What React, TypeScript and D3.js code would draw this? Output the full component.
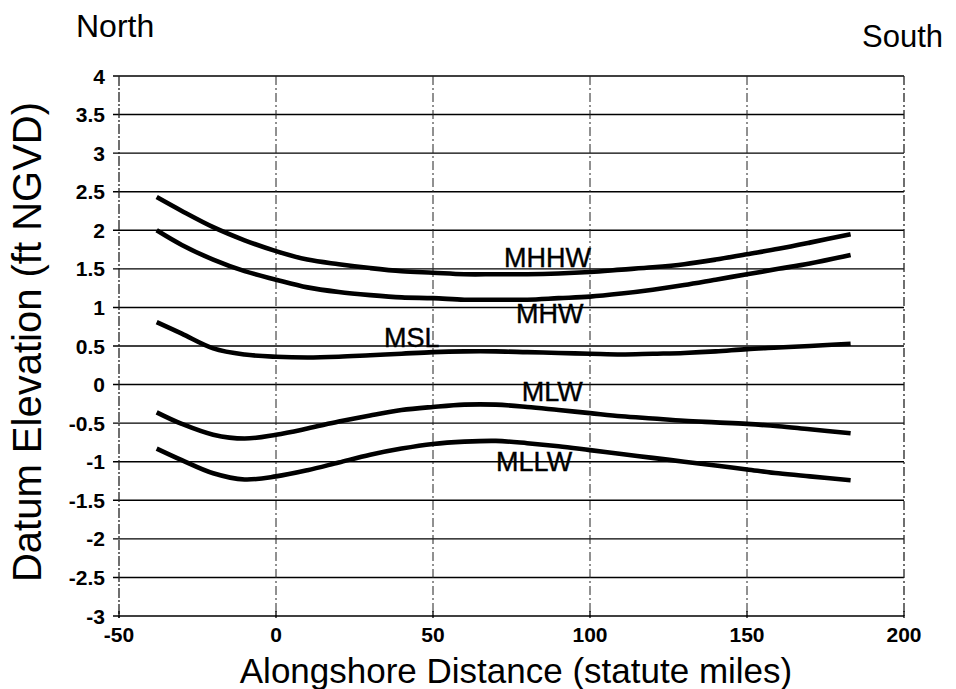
import React from "react";
import * as d3 from "d3";

// Alongshore distance (statute miles) at which each datum is sampled
const distance = [-38, -30, -20, -10, 0, 10, 20, 30, 40, 50, 60, 70, 80, 90, 100, 110, 120, 130, 140, 150, 160, 170, 183];

// Tidal datum elevations (ft NGVD)
const mhhw = [2.43, 2.25, 2.04, 1.87, 1.73, 1.62, 1.56, 1.51, 1.47, 1.45, 1.43, 1.43, 1.43, 1.44, 1.46, 1.49, 1.52, 1.56, 1.62, 1.69, 1.76, 1.84, 1.95];
const mhw = [2.0, 1.81, 1.62, 1.47, 1.36, 1.26, 1.2, 1.16, 1.13, 1.12, 1.1, 1.1, 1.1, 1.12, 1.14, 1.18, 1.23, 1.29, 1.36, 1.43, 1.5, 1.57, 1.68];
const msl = [0.81, 0.66, 0.47, 0.39, 0.36, 0.35, 0.36, 0.38, 0.4, 0.42, 0.43, 0.43, 0.42, 0.41, 0.4, 0.39, 0.4, 0.41, 0.43, 0.46, 0.48, 0.5, 0.53];
const mlw = [-0.36, -0.51, -0.65, -0.7, -0.65, -0.57, -0.48, -0.4, -0.33, -0.29, -0.26, -0.26, -0.29, -0.33, -0.37, -0.41, -0.44, -0.47, -0.49, -0.51, -0.54, -0.58, -0.63];
const mllw = [-0.83, -0.98, -1.15, -1.23, -1.19, -1.11, -1.01, -0.91, -0.83, -0.77, -0.74, -0.73, -0.76, -0.8, -0.85, -0.9, -0.95, -1.0, -1.05, -1.1, -1.15, -1.19, -1.24];

const seriesValues = [mhhw, mhw, msl, mlw, mllw];

// Curve names and where each name sits (distance, elevation of text baseline)
const labelNames = ["MHHW", "MHW", "MSL", "MLW", "MLLW"];
const labelX = [72.6, 76.4, 34.4, 78.3, 70.1];
const labelY = [1.52, 0.8, 0.49, -0.21, -1.12];

const xTicks = [-50, 0, 50, 100, 150, 200];
const yTicks = [4, 3.5, 3, 2.5, 2, 1.5, 1, 0.5, 0, -0.5, -1, -1.5, -2, -2.5, -3];

const W = 956;
const H = 689;
const FONT = "'Liberation Sans', Arial, Helvetica, sans-serif";

export default function App() {
  const x = d3.scaleLinear().domain([-50, 200]).range([119, 904]);
  const y = d3.scaleLinear().domain([-3, 4]).range([616, 76]);

  const line = d3
    .line<[number, number]>()
    .x((d) => x(d[0]))
    .y((d) => y(d[1]))
    .curve(d3.curveCatmullRom.alpha(0.5));

  const [x0, x1] = x.range();
  const [yb, yt] = y.range();

  return (
    <svg
      width={W}
      height={H}
      viewBox={`0 0 ${W} ${H}`}
      style={{ position: "absolute", left: 0, top: 0, background: "#fff" }}
      fontFamily={FONT}
    >
      <rect x={0} y={0} width={W} height={H} fill="#fff" />

      {/* horizontal grid lines */}
      {yTicks.map((t) => (
        <line key={"h" + t} x1={x0 - 6} x2={x1} y1={y(t)} y2={y(t)} stroke="#000" strokeWidth={1.4} />
      ))}

      {/* vertical grid lines, dash-dot */}
      {xTicks.map((t) => (
        <line
          key={"v" + t}
          x1={x(t)}
          x2={x(t)}
          y1={yt}
          y2={yb + (t === -50 ? 3 : 0)}
          stroke="#222"
          strokeWidth={t === -50 || t === 200 ? 1.3 : 1}
          strokeDasharray={t === -50 ? "10,2,2,2" : "9,3,2,3"}
        />
      ))}

      {/* x tick marks */}
      {xTicks.map((t) => (
        <line key={"xt" + t} x1={x(t)} x2={x(t)} y1={yb - 5} y2={yb + 2} stroke="#000" strokeWidth={1.3} />
      ))}

      {/* y tick labels */}
      {yTicks.map((t) => (
        <text
          key={"yl" + t}
          x={105}
          y={y(t)}
          dy="0.36em"
          textAnchor="end"
          fontSize={21}
          fontWeight={700}
        >
          {String(t)}
        </text>
      ))}

      {/* x tick labels */}
      {xTicks.map((t) => (
        <text key={"xl" + t} x={x(t)} y={642} textAnchor="middle" fontSize={21} fontWeight={700}>
          {String(t)}
        </text>
      ))}

      {/* datum curves */}
      {seriesValues.map((vals, i) => (
        <path
          key={"s" + i}
          d={line(distance.map((d, j) => [d, vals[j]] as [number, number])) || ""}
          fill="none"
          stroke="#000"
          strokeWidth={4.6}
          strokeLinecap="butt"
        />
      ))}

      {/* curve names */}
      {labelNames.map((n, i) => (
        <text key={"n" + n} x={x(labelX[i])} y={y(labelY[i])} fontSize={27} stroke="#000" strokeWidth={0.4}>
          {n}
        </text>
      ))}

      {/* direction markers */}
      <text x={76} y={37} fontSize={32}>
        North
      </text>
      <text x={862} y={47} fontSize={31}>
        South
      </text>

      {/* axis titles */}
      <text x={516} y={683} textAnchor="middle" fontSize={35}>
        Alongshore Distance (statute miles)
      </text>
      <text
        transform={`translate(41, ${(yt + yb) / 2 - 4}) rotate(-90)`}
        textAnchor="middle"
        fontSize={40}
      >
        Datum Elevation (ft NGVD)
      </text>
    </svg>
  );
}
